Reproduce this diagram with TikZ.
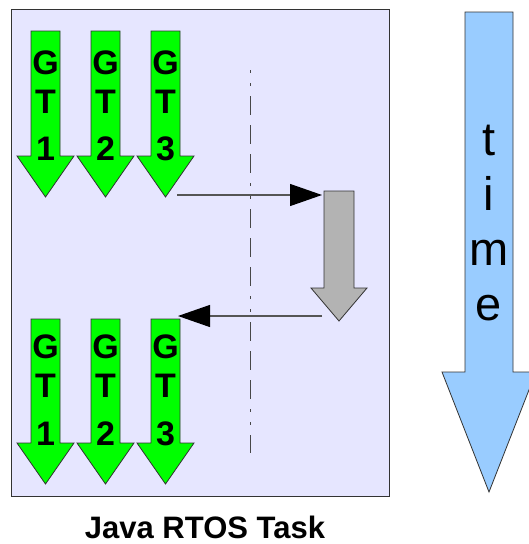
\documentclass[tikz,border=0pt]{standalone}
\usepackage{fontspec}
\setmainfont{Liberation Sans}
\usetikzlibrary{arrows.meta}
\definecolor{panel}{HTML}{E6E6FF}
\definecolor{gtgreen}{HTML}{00FF00}
\definecolor{graybox}{HTML}{B3B3B3}
\definecolor{timeblue}{HTML}{99CCFF}
\definecolor{edge}{HTML}{333333}
\definecolor{conn}{HTML}{555555}
\tikzset{
  shapeline/.style={draw=edge, line width=0.8pt},
  gtlabel/.style={anchor=base, inner sep=0pt, align=center, font=\fontsize{34}{39}\selectfont\bfseries},
  timelabel/.style={anchor=base, inner sep=0pt, align=center, font=\fontsize{47}{55}\selectfont},
  titlelabel/.style={anchor=base, inner sep=0pt, font=\fontsize{31}{36}\selectfont\bfseries},
  connector/.style={draw=conn, line width=1.2pt, -{Triangle[length=32pt,width=22pt,color=black,fill=black]}},
  dashdot/.style={draw=edge!90, line width=1pt, dash pattern=on 3pt off 10pt on 3pt off 10pt on 19pt off 10pt on 19pt off 10pt on 19pt off 10pt}
}
% \bigarrow{fill}{cx}{top}{headbase}{tip}{shaft half}{head half}
\newcommand{\bigarrow}[7]{%
  \filldraw[shapeline, fill=#1]
    ({#2-#6},#3) -- ({#2+#6},#3) -- ({#2+#6},#4) -- ({#2+#7},#4) --
    (#2,#5) -- ({#2-#7},#4) -- ({#2-#6},#4) -- cycle;}
\begin{document}
\begin{tikzpicture}[x=1pt,y=-1pt]
\useasboundingbox (0,0) rectangle (528,544);
% panel
\filldraw[fill=panel, draw=edge, line width=1pt] (11,9) rectangle (389,496);
% dash-dot line
\draw[dashdot] (250,70) -- (250,453);
% top green arrows
\bigarrow{gtgreen}{45.5}{31}{156}{197}{14.5}{28.5}
\bigarrow{gtgreen}{105.5}{31}{156}{197}{14.5}{28.5}
\bigarrow{gtgreen}{165.5}{31}{156}{197}{14.5}{28.5}
\node[gtlabel] (gt1a) at (45.5,160) {G\\T\\[8pt]1};
\node[gtlabel] (gt2a) at (105.5,160) {G\\T\\[8pt]2};
\node[gtlabel] (gt3a) at (165.5,160) {G\\T\\[8pt]3};
% bottom green arrows
\bigarrow{gtgreen}{45.5}{319}{443}{484}{14.5}{28.5}
\bigarrow{gtgreen}{105.5}{319}{443}{484}{14.5}{28.5}
\bigarrow{gtgreen}{165.5}{319}{443}{484}{14.5}{28.5}
\node[gtlabel] (gt1b) at (45.5,445) {G\\T\\[9pt]1};
\node[gtlabel] (gt2b) at (105.5,445) {G\\T\\[9pt]2};
\node[gtlabel] (gt3b) at (165.5,445) {G\\T\\[9pt]3};
% gray arrow
\bigarrow{graybox}{339}{191}{288}{321}{15}{28}
% time arrow
\bigarrow{timeblue}{489}{12}{372}{492}{24}{47}
\node[timelabel] (time) at (489,320) {t\\i\\m\\e};
% connectors
\coordinate (out1) at (177,195);
\coordinate (in1) at (322,195);
\coordinate (out2) at (322,316);
\coordinate (in2) at (178,316);
\draw[connector] (out1) -- (in1);
\draw[connector] (out2) -- (in2);
% title
\node[titlelabel] (title) at (205,538) {Java RTOS Task};
\end{tikzpicture}
\end{document}
